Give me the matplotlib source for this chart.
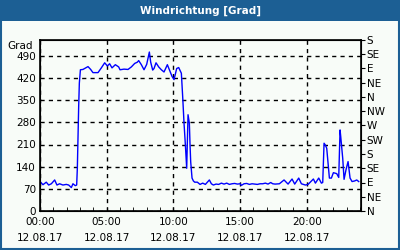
import numpy as np
import matplotlib
matplotlib.use('Agg')
import matplotlib.pyplot as plt
from matplotlib.patches import Rectangle


# Daten (Stunden seit 00:00, Windrichtung in Grad)

hours = [0.0, 0.05, 0.22, 0.47, 0.65, 0.85, 1.1, 1.27, 1.47, 1.72, 1.97, 2.15,
         2.35, 2.47, 2.65, 2.75, 2.8, 2.85, 2.9, 2.95, 3.03, 3.22, 3.6, 3.8,
         3.97, 4.35, 4.6, 4.85, 5.05, 5.22, 5.4, 5.65, 5.9, 6.0, 6.3, 6.6,
         6.85, 7.1, 7.3, 7.4, 7.6, 7.8, 8.0, 8.2, 8.3, 8.45, 8.55, 8.7, 8.9,
         9.1, 9.3, 9.55, 9.7, 9.9, 10.05, 10.25, 10.4, 10.6, 10.7, 10.8, 10.9,
         11.0, 11.1, 11.2, 11.25, 11.3, 11.4, 11.5, 11.6, 11.8, 12.0, 12.2, 12.4,
         12.7, 12.85, 13.0, 13.2, 13.4, 13.6, 13.8, 14.0, 14.2, 14.4, 14.6,
         14.8, 15.0, 15.1, 15.3, 15.5, 15.7, 15.9, 16.1, 16.3, 16.5, 16.7,
         16.9, 17.1, 17.3, 17.45, 17.63, 17.95, 18.3, 18.6, 18.9, 19.1, 19.4,
         19.6, 19.9, 20.1, 20.5, 20.65, 20.9, 21.1, 21.2, 21.3, 21.4, 21.5,
         21.6, 21.7, 21.85, 22.0, 22.25, 22.4, 22.5, 22.55, 22.7, 22.8, 22.95,
         23.1, 23.25, 23.4, 23.6, 23.75, 23.9]

grad = [88, 91, 83, 91, 82, 86, 98, 82, 86, 82, 84, 82,
        74, 86, 80, 82, 135, 240, 330, 404, 446, 447, 456, 447,
        437, 437, 452, 468, 458, 465, 452, 462, 455, 446, 448, 447,
        455, 466, 470, 475, 462, 446, 463, 502, 470, 445, 450, 468, 455,
        446, 439, 462, 446, 425, 415, 450, 453, 435, 360, 277, 209,
        135, 304, 277, 209, 155, 104, 95, 91, 91, 84, 88, 84,
        98, 86, 82, 85, 84, 88, 85, 88, 84, 86, 87,
        85, 86, 81, 86, 87, 84, 86, 85, 84, 86, 86,
        88, 85, 90, 86, 85, 86, 98, 85, 101, 85, 104,
        86, 82, 84, 101, 88, 104, 88, 90, 214, 208, 198,
        150, 104, 104, 121, 118, 106, 256, 235, 166, 100, 131,
        156, 104, 93, 95, 98, 93]

left_ticks = [0, 70, 140, 210, 280, 350, 420, 490]
right_ticks = [0, 45, 90, 135, 180, 225, 270, 315, 360, 405, 450, 495, 540]
right_labels = ['N', 'NE', 'E', 'SE', 'S', 'SW', 'W', 'NW', 'N', 'NE', 'E', 'SE', 'S']
x_ticks = [0, 5, 10, 15, 20]
x_labels = ['00:00\n12.08.17', '05:00\n12.08.17', '10:00\n12.08.17',
            '15:00\n12.08.17', '20:00\n12.08.17']


# Stil

bg = '#f8fcf8'
blue_bar = '#1c5f94'
plt.rcParams['font.family'] = 'DejaVu Sans'
plt.rcParams['font.size'] = 7.5

fig = plt.figure(figsize=(4, 2.5), dpi=100, facecolor=bg)

# Titelleiste und Rahmen
fig.patches.append(Rectangle((0, 1 - 21 / 250), 1, 21 / 250, transform=fig.transFigure,
                             facecolor=blue_bar, edgecolor='none', zorder=0))
fig.patches.append(Rectangle((1 / 400, 1 / 250), 1 - 2 / 400, 1 - 2 / 250,
                             transform=fig.transFigure, facecolor='none',
                             edgecolor=blue_bar, linewidth=1.5, zorder=1))
fig.text(0.5, 1 - 10.5 / 250, 'Windrichtung [Grad]', color='white',
         fontweight='bold', fontsize=7.5, ha='center', va='center')

ax = fig.add_axes([40 / 400, 39 / 250, 321 / 400, 171 / 250])
ax.set_facecolor(bg)

ax.plot(hours, grad, color='#0000ff', linewidth=1)

ax.set_xlim(0, 24.07)
ax.set_ylim(0, 540)

ax.set_yticks(left_ticks)
ax.tick_params(axis='y', length=0, pad=3)
ax.set_xticks(x_ticks)
ax.set_xticklabels(x_labels, linespacing=1.75)
ax.set_xticks(np.arange(0, 25, 1), minor=True)
ax.tick_params(axis='x', which='both', direction='in', length=3, pad=4)

ax.grid(True, color='black', linestyle=(0, (3, 3)), linewidth=1)

for s in ax.spines.values():
    s.set_linewidth(1.2)

ax2 = ax.twinx()
ax2.set_ylim(0, 540)
ax2.set_yticks(right_ticks)
ax2.set_yticklabels(right_labels)
ax2.tick_params(axis='y', direction='out', length=3, pad=1)

fig.text(20 / 400, 1 - 46 / 250, 'Grad', ha='center', va='center')

plt.savefig('out.png', dpi=100, facecolor=bg)
